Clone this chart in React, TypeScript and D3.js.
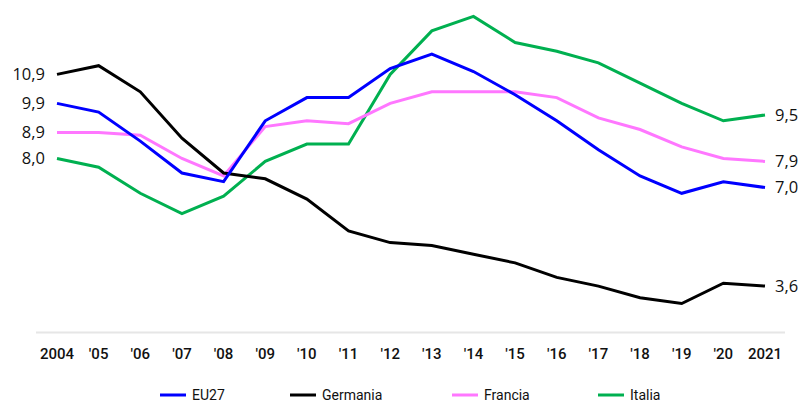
import React from "react";
import * as d3 from "d3";

const years = [2004, 2005, 2006, 2007, 2008, 2009, 2010, 2011, 2012, 2013, 2014, 2015, 2016, 2017, 2018, 2019, 2020, 2021];
const tickLabels = ["2004", "'05", "'06", "'07", "'08", "'09", "'10", "'11", "'12", "'13", "'14", "'15", "'16", "'17", "'18", "'19", "'20", "2021"];

const eu27 = [9.9, 9.6, 8.6, 7.5, 7.2, 9.3, 10.1, 10.1, 11.1, 11.6, 11.0, 10.2, 9.3, 8.3, 7.4, 6.8, 7.2, 7.0];
const germania = [10.9, 11.2, 10.3, 8.7, 7.5, 7.3, 6.6, 5.5, 5.1, 5.0, 4.7, 4.4, 3.9, 3.6, 3.2, 3.0, 3.7, 3.6];
const francia = [8.9, 8.9, 8.8, 8.0, 7.4, 9.1, 9.3, 9.2, 9.9, 10.3, 10.3, 10.3, 10.1, 9.4, 9.0, 8.4, 8.0, 7.9];
const italia = [8.0, 7.7, 6.8, 6.1, 6.7, 7.9, 8.5, 8.5, 10.9, 12.4, 12.9, 12.0, 11.7, 11.3, 10.6, 9.9, 9.3, 9.5];

const seriesNames = ["EU27", "Germania", "Francia", "Italia"];
const seriesValues = [eu27, germania, francia, italia];
const seriesColors = ["#0000FF", "#000000", "#FF77FF", "#00B050"];
const legendX = [160, 290, 452, 598];

const fmt = (v: number) => v.toFixed(1).replace(".", ",");

export default function App() {
  const W = 803;
  const H = 403;
  const x = d3.scalePoint<number>().domain(years).range([57, 765]);
  const y = d3.scaleLinear().domain([2, 13]).range([332.5, 13.5]);
  const line = d3
    .line<number>()
    .x((_, i) => x(years[i]) as number)
    .y((d) => y(d));

  const drawOrder = [3, 2, 1, 0];
  const first = years[0];
  const last = years[years.length - 1];

  return (
    <svg
      width={W}
      height={H}
      style={{ position: "absolute", left: 0, top: 0, background: "#fff" }}
      fontFamily="'Open Sans', sans-serif"
    >
      <line x1={36} x2={785} y1={332.5} y2={332.5} stroke="#e6e6e6" strokeWidth={2} />
      {drawOrder.map((si) => (
        <path
          key={seriesNames[si]}
          d={line(seriesValues[si]) || ""}
          fill="none"
          stroke={seriesColors[si]}
          strokeWidth={3}
          strokeLinejoin="miter"
        />
      ))}
      {seriesValues.map((vals, si) => (
        <text
          key={"l" + si}
          x={(x(first) as number) - 12}
          y={y(vals[0])}
          dy="0.35em"
          textAnchor="end"
          fontSize={16.5}
          fill="#111"
        >
          {fmt(vals[0])}
        </text>
      ))}
      {seriesValues.map((vals, si) => (
        <text
          key={"r" + si}
          x={(x(last) as number) + 10}
          y={y(vals[vals.length - 1])}
          dy="0.35em"
          textAnchor="start"
          fontSize={16.5}
          fill="#111"
        >
          {fmt(vals[vals.length - 1])}
        </text>
      ))}
      {years.map((yr, i) => (
        <text
          key={"t" + yr}
          x={x(yr) as number}
          y={359}
          textAnchor="middle"
          fontFamily="Roboto, sans-serif"
          fontWeight={500}
          fontSize={15}
          fill="#111"
        >
          {tickLabels[i]}
        </text>
      ))}
      {seriesNames.map((n, si) => (
        <g key={"lg" + n} transform={`translate(${legendX[si]},395)`}>
          <line x1={0} x2={26} y1={0} y2={0} stroke={seriesColors[si]} strokeWidth={3} />
          <text x={32} y={0} dy="0.35em" fontFamily="Roboto, sans-serif" fontSize={14} fill="#111">
            {n}
          </text>
        </g>
      ))}
    </svg>
  );
}
